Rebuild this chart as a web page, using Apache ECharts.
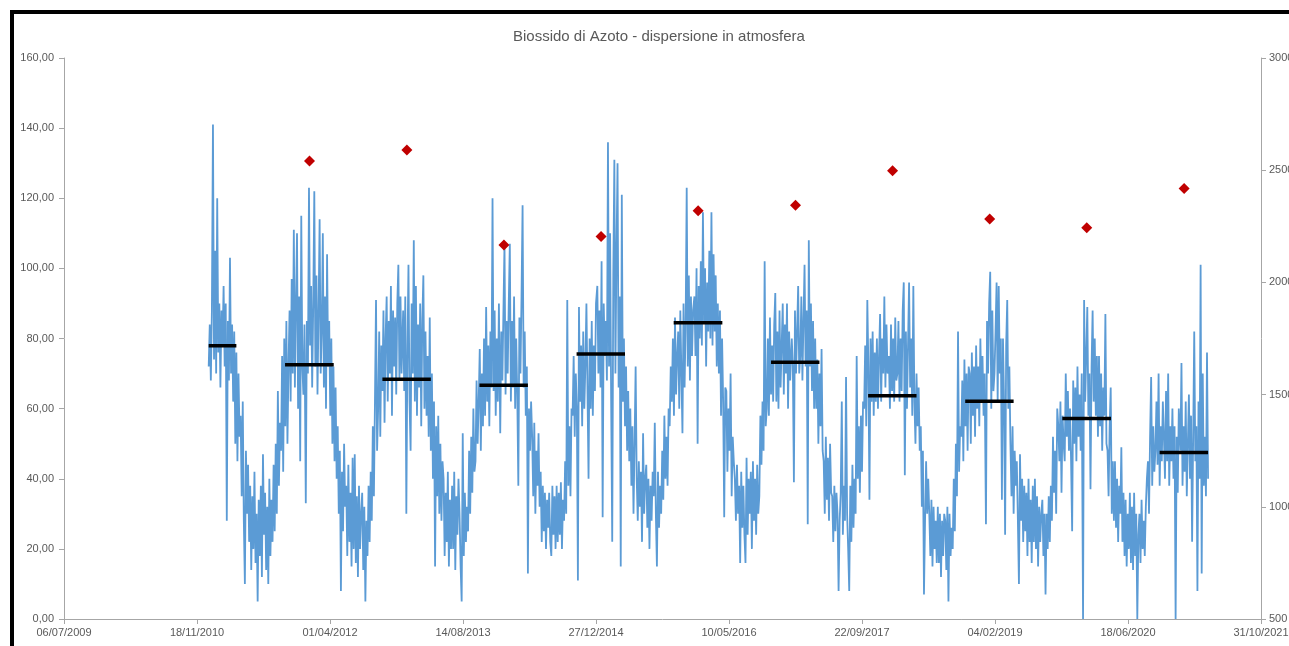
<!DOCTYPE html>
<html>
<head>
<meta charset="utf-8">
<title>Biossido di Azoto</title>
<script src="https://cdn.jsdelivr.net/npm/echarts@6/dist/echarts.min.js"></script>
<style>
  html, body { margin: 0; padding: 0; background: #fff; }
  #chart { width: 1289px; height: 646px; }
</style>
</head>
<body>
<div id="chart"></div>
<script>
// NO2 readings every 4 days, one array per year, first value on 1 January
var no2_2011 = [72, 84, 68, 88, 141, 74, 105, 70, 120, 76, 90, 66, 88, 78, 95, 72, 90, 28, 85, 68, 103, 70, 84, 62, 82, 50, 76, 45, 70, 52, 58, 35, 62, 28, 10, 48, 30, 44, 22, 38, 14, 35, 20, 42, 16, 30, 5, 34, 18, 38, 12, 47, 24, 36, 14, 32, 10, 40, 18, 34, 22, 44, 25, 50, 30, 65, 38, 56, 48, 75, 42, 80, 55, 85, 50, 72, 88, 62, 97, 70, 111, 66, 90, 110, 60, 92, 45, 115, 72, 64, 84]
var no2_2012 = [33, 85, 70, 123, 78, 95, 66, 90, 122, 72, 98, 64, 88, 114, 70, 82, 110, 66, 92, 60, 104, 72, 85, 58, 80, 50, 72, 45, 66, 40, 55, 30, 48, 8, 42, 25, 50, 32, 38, 18, 44, 22, 36, 15, 46, 20, 47, 16, 35, 12, 38, 20, 30, 36, 14, 32, 5, 28, 18, 38, 22, 42, 28, 55, 35, 62, 91, 48, 60, 82, 52, 78, 65, 88, 56, 80, 92, 62, 85, 70, 95, 58, 88, 72, 86, 64, 90, 101, 68, 92, 70]
var no2_2013 = [88, 65, 92, 30, 76, 101, 62, 48, 90, 70, 108, 62, 95, 58, 84, 66, 90, 55, 85, 98, 60, 82, 58, 75, 52, 86, 48, 70, 40, 62, 15, 55, 35, 58, 30, 50, 28, 45, 40, 18, 36, 22, 42, 15, 34, 20, 38, 20, 42, 14, 35, 24, 40, 30, 15, 5, 53, 18, 36, 22, 32, 25, 48, 30, 52, 36, 60, 42, 45, 68, 50, 62, 77, 48, 70, 55, 80, 58, 89, 62, 78, 55, 82, 66, 120, 65, 88, 58, 80, 62, 90]
var no2_2014 = [53, 82, 68, 88, 107, 64, 85, 70, 90, 107, 62, 85, 66, 92, 60, 80, 64, 38, 86, 70, 92, 118, 66, 82, 58, 72, 13, 60, 48, 62, 52, 35, 56, 30, 48, 38, 53, 32, 42, 22, 38, 25, 36, 20, 34, 26, 36, 22, 18, 38, 24, 35, 20, 38, 22, 36, 24, 39, 20, 34, 28, 45, 30, 91, 38, 55, 35, 60, 58, 75, 52, 70, 60, 11, 89, 62, 78, 55, 82, 60, 72, 90, 65, 40, 80, 60, 85, 58, 78, 65, 90]
var no2_2015 = [95, 70, 88, 66, 102, 29, 90, 75, 85, 68, 136, 72, 110, 62, 22, 98, 131, 70, 105, 130, 66, 92, 15, 121, 62, 80, 55, 72, 48, 65, 45, 60, 38, 55, 30, 50, 72, 40, 28, 45, 32, 42, 22, 53, 30, 40, 44, 26, 40, 20, 38, 28, 42, 35, 56, 30, 15, 42, 26, 38, 30, 48, 34, 58, 40, 52, 38, 60, 55, 72, 62, 80, 58, 86, 64, 75, 82, 60, 88, 70, 53, 90, 66, 84, 123, 72, 98, 68, 92, 75, 88]
var no2_2016 = [92, 75, 100, 50, 95, 80, 102, 78, 116, 85, 100, 72, 96, 82, 105, 80, 116, 78, 104, 82, 98, 72, 90, 70, 88, 58, 80, 62, 29, 66, 65, 42, 60, 48, 70, 35, 52, 45, 40, 28, 44, 30, 38, 16, 42, 26, 38, 24, 16, 46, 24, 40, 30, 42, 20, 45, 28, 40, 24, 44, 30, 35, 58, 44, 62, 48, 102, 55, 60, 80, 58, 86, 64, 78, 62, 84, 93, 62, 82, 60, 88, 66, 78, 90, 64, 84, 70, 90, 60, 82, 68]
var no2_2017 = [80, 72, 39, 88, 70, 82, 95, 70, 75, 92, 68, 85, 101, 72, 88, 27, 108, 72, 90, 65, 85, 60, 80, 60, 74, 50, 70, 55, 77, 48, 45, 30, 52, 34, 46, 28, 50, 36, 35, 22, 38, 25, 36, 30, 8, 28, 36, 62, 24, 38, 28, 69, 30, 20, 8, 38, 22, 44, 26, 40, 30, 75, 40, 55, 36, 58, 42, 62, 60, 78, 55, 91, 72, 34, 80, 62, 82, 58, 76, 62, 80, 60, 75, 87, 62, 80, 70, 92, 66, 84, 70]
var no2_2018 = [75, 60, 84, 65, 80, 62, 86, 68, 70, 85, 62, 80, 65, 88, 96, 41, 82, 60, 78, 96, 66, 80, 58, 95, 62, 50, 70, 55, 66, 48, 55, 32, 48, 7, 28, 45, 30, 40, 30, 18, 34, 15, 32, 20, 28, 16, 32, 16, 30, 12, 28, 18, 30, 28, 14, 32, 5, 30, 18, 26, 20, 40, 25, 50, 35, 82, 42, 55, 52, 68, 45, 74, 55, 70, 48, 72, 70, 50, 76, 58, 72, 52, 78, 60, 72, 55, 80, 62, 75, 58, 70]
var no2_2019 = [27, 85, 70, 90, 99, 60, 88, 65, 70, 82, 96, 62, 95, 70, 80, 34, 80, 62, 24, 78, 91, 60, 72, 50, 35, 55, 30, 48, 38, 45, 28, 10, 47, 28, 40, 22, 38, 25, 36, 18, 40, 22, 34, 16, 38, 22, 40, 20, 35, 15, 32, 22, 30, 34, 18, 30, 7, 30, 20, 35, 22, 38, 28, 52, 36, 48, 30, 60, 55, 45, 62, 36, 58, 50, 45, 70, 52, 65, 48, 60, 45, 25, 68, 50, 66, 45, 72, 52, 64, 48, 70]
var no2_2020 = [0, 91, 62, 75, 89, 58, 70, 37, 72, 88, 62, 80, 58, 75, 52, 75, 55, 70, 48, 66, 58, 87, 50, 48, 35, 55, 66, 30, 45, 28, 45, 26, 40, 22, 38, 30, 49, 22, 36, 18, 34, 15, 30, 20, 36, 16, 32, 14, 36, 18, 30, 0, 24, 30, 16, 34, 20, 28, 18, 32, 40, 45, 30, 52, 69, 38, 55, 42, 48, 62, 44, 70, 38, 55, 45, 62, 52, 40, 65, 45, 70, 38, 55, 45, 60, 40, 55, 0, 52, 36, 60]
var no2_2021 = [48, 73, 38, 55, 42, 62, 35, 50, 64, 40, 58, 22, 52, 82, 45, 55, 8, 62, 40, 101, 13, 70, 38, 52, 35, 76, 40]

// heating season means (black bars)
var seasonStart = ['2011-01-01', '2011-10-15', '2012-10-15', '2013-10-15', '2014-10-15', '2015-10-15', '2016-10-15', '2017-10-15', '2018-10-15', '2019-10-15', '2020-10-15']
var seasonEnd = ['2011-04-15', '2012-04-15', '2013-04-15', '2014-04-15', '2015-04-15', '2016-04-15', '2017-04-15', '2018-04-15', '2019-04-15', '2020-04-15', '2021-04-15']
var seasonMean = [77.9, 72.5, 68.4, 66.7, 75.6, 84.5, 73.2, 63.7, 62.1, 57.2, 47.5]

// degree days per season (red diamonds, right axis)
var ggDates = ['2012-01-15', '2013-01-15', '2014-01-15', '2015-01-15', '2016-01-15', '2017-01-15', '2018-01-15', '2019-01-15', '2020-01-15', '2021-01-15']
var ggValues = [2541, 2590, 2167, 2204, 2319, 2344, 2498, 2283, 2243, 2418]

var T0 = Date.UTC(2009, 6, 6)
var DAY = 86400000
var STEP = 4

function dayOf(s) {
  var p = s.split('-')
  return (Date.UTC(+p[0], +p[1] - 1, +p[2]) - T0) / DAY
}
function pad(n) {
  return n < 10 ? '0' + n : '' + n
}
function dateLabel(v) {
  var d = new Date(T0 + v * DAY)
  return pad(d.getUTCDate()) + '/' + pad(d.getUTCMonth() + 1) + '/' + d.getUTCFullYear()
}

var years = [
  [2011, no2_2011], [2012, no2_2012], [2013, no2_2013], [2014, no2_2014],
  [2015, no2_2015], [2016, no2_2016], [2017, no2_2017], [2018, no2_2018],
  [2019, no2_2019], [2020, no2_2020], [2021, no2_2021]
]
var no2 = []
years.forEach(function (y) {
  var start = dayOf(y[0] + '-01-01')
  y[1].forEach(function (v, i) {
    no2.push([start + STEP * i, v])
  })
})

var txt = '#595959'
var axisGray = '#a6a6a6'
var font = 'Liberation Sans, Arial, sans-serif'

var series = [{
  type: 'line',
  data: no2,
  showSymbol: false,
  lineStyle: { color: '#5b9bd5', width: 1.8 },
  itemStyle: { color: '#5b9bd5' },
  z: 2
}]
seasonMean.forEach(function (m, i) {
  series.push({
    type: 'line',
    data: [[dayOf(seasonStart[i]), m], [dayOf(seasonEnd[i]), m]],
    showSymbol: false,
    lineStyle: { color: '#000', width: 3.5 },
    z: 3
  })
})
series.push({
  type: 'scatter',
  yAxisIndex: 1,
  symbol: 'diamond',
  symbolSize: [11, 11],
  itemStyle: { color: '#c00000', opacity: 1 },
  data: ggDates.map(function (d, i) { return [dayOf(d), ggValues[i]] }),
  z: 4
})

var chart = echarts.init(document.getElementById('chart'))
chart.setOption({
  animation: false,
  backgroundColor: '#fff',
  textStyle: { fontFamily: font },
  title: {
    text: 'Biossido di Azoto - dispersione in atmosfera',
    left: 508,
    top: 24,
    textStyle: { color: txt, fontSize: 15, fontWeight: 'normal', fontFamily: font }
  },
  graphic: [{
    type: 'rect',
    shape: { x: 12, y: 12, width: 1400, height: 1000 },
    style: { fill: 'none', stroke: '#000', lineWidth: 4 },
    silent: true
  }],
  grid: { left: 64, right: 28, top: 58, bottom: 27, outerBoundsMode: 'none', containLabel: false },
  xAxis: {
    type: 'value',
    min: 0,
    max: 4500,
    interval: 500,
    splitLine: { show: false },
    axisLine: { lineStyle: { color: axisGray } },
    axisTick: { lineStyle: { color: axisGray }, length: 5 },
    axisLabel: { color: txt, fontSize: 11, margin: 8, formatter: dateLabel, showMinLabel: true, showMaxLabel: true, hideOverlap: false }
  },
  yAxis: [{
    type: 'value',
    min: 0,
    max: 160,
    interval: 20,
    splitLine: { show: false },
    axisLine: { show: true, lineStyle: { color: axisGray } },
    axisTick: { show: true, lineStyle: { color: axisGray }, length: 5 },
    axisLabel: {
      color: txt, fontSize: 11, margin: 10,
      formatter: function (v) { return v.toFixed(2).replace('.', ',') }
    }
  }, {
    type: 'value',
    position: 'right',
    min: 500,
    max: 3000,
    interval: 500,
    splitLine: { show: false },
    axisLine: { show: true, lineStyle: { color: axisGray } },
    axisTick: { show: true, lineStyle: { color: axisGray }, length: 5 },
    axisLabel: { color: txt, fontSize: 11, margin: 8, formatter: function (v) { return String(v) } }
  }],
  series: series
})
</script>
</body>
</html>
